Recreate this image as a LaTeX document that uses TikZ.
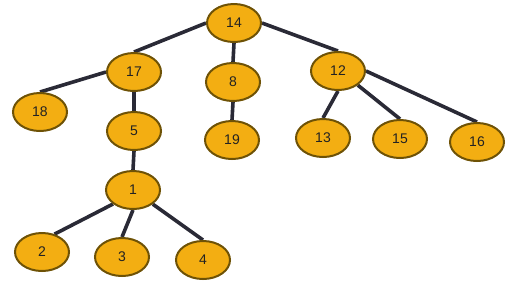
\documentclass[tikz,border=0pt]{standalone}
\usepackage{fontspec}
\setmainfont{Liberation Sans}
\usetikzlibrary{shapes.geometric,backgrounds}
\definecolor{nodefill}{HTML}{F3AE12}
\definecolor{nodeedge}{HTML}{6E5206}
\definecolor{edgecolor}{HTML}{2A2A36}
\definecolor{labelcolor}{HTML}{222222}
\tikzset{
  treenode/.style={ellipse, draw=nodeedge, fill=nodefill, line width=1.5pt,
    minimum width=40.5pt, minimum height=28.5pt, inner sep=0pt,
    text=labelcolor, font=\fontsize{10.5}{12}\selectfont},
  edgeln/.style={line width=2.7pt, edgecolor},
}

\begin{document}
\begin{tikzpicture}[x=0.75pt, y=-0.75pt]
  \useasboundingbox (0,0) rectangle (509,287);
  % nodes
  \node[treenode] (n14) at (234,23) {14};
  \node[treenode] (n17) at (134,72) {17};
  \node[treenode] (n8)  at (233,82) {8};
  \node[treenode] (n12) at (338,71) {12};
  \node[treenode] (n18) at (40,112) {18};
  \node[treenode] (n5)  at (134,131) {5};
  \node[treenode] (n19) at (232,140) {19};
  \node[treenode] (n13) at (323,138) {13};
  \node[treenode] (n15) at (400,139) {15};
  \node[treenode] (n16) at (477,142) {16};
  \node[treenode] (n1)  at (133,190) {1};
  \node[treenode] (n2)  at (42,252) {2};
  \node[treenode] (n3)  at (122,257) {3};
  \node[treenode] (n4)  at (203,260) {4};
  % edges, behind the nodes
  \begin{pgfonlayer}{background}
    \draw[edgeln] (n14.west) -- (n17.north);
    \draw[edgeln] (n14.south) -- (n8.north);
    \draw[edgeln] (n14.east) -- (n12.north);
    \draw[edgeln] (n17.west) -- (n18.north);
    \draw[edgeln] (n17.south) -- (n5.north);
    \draw[edgeln] (n8.south) -- (n19.north);
    \draw[edgeln] (n12.south) -- (n13.north);
    \draw[edgeln] (n12.south east) -- (n15.north);
    \draw[edgeln] (n12.east) -- (n16.north);
    \draw[edgeln] (n5.south) -- (n1.north);
    \draw[edgeln] (n1.215) -- (n2.55);
    \draw[edgeln] (n1.south) -- (n3.north);
    \draw[edgeln] (n1.south east) -- (n4.north);
  \end{pgfonlayer}
\end{tikzpicture}
\end{document}
